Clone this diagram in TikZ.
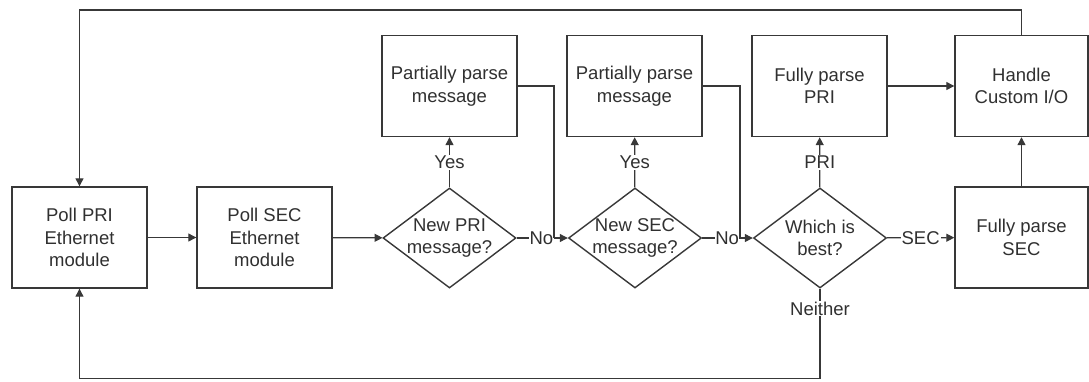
\documentclass[tikz,border=0pt]{standalone}
\usepackage{fontspec}
\setmainfont{Liberation Sans}
\usepackage{xcolor}
\usepackage{tikz}
\usetikzlibrary{arrows.meta,shapes}
\definecolor{ln}{HTML}{383838}
\definecolor{txt}{HTML}{303030}

\begin{document}
\begin{tikzpicture}[x=1pt,y=-1pt,>={Triangle[length=8pt,width=8pt]},
every node/.style={font=\fontsize{18.5}{22.5}\selectfont,text=txt},
blk/.style={draw=ln,line width=1.4pt,minimum width=135pt,minimum height=101pt,align=center,inner sep=0pt},
dec/.style={draw=ln,line width=1.4pt,diamond,aspect=1.2,minimum width=133pt,minimum height=100pt,align=center,inner sep=-6pt},
lbl/.style={fill=white,inner sep=1pt},
flow/.style={draw=ln,line width=1.2pt}]
\useasboundingbox(0,0)rectangle(1089,381);
\node[blk](ppri)at(79.5,237.5){Poll PRI\\Ethernet\\module};
\node[blk](psec)at(264.5,237.5){Poll SEC\\Ethernet\\module};
\node[dec](dpri)at(449.5,238){New PRI\\message?};
\node[dec](dsec)at(635,238){New SEC\\message?};
\node[dec](dbest)at(820,238){Which is\\best?};
\node[blk](part1)at(449.5,86){Partially parse\\message};
\node[blk](part2)at(634.5,86){Partially parse\\message};
\node[blk](fpri)at(819.5,86){Fully parse\\PRI};
\node[blk,minimum width=133pt](hio)at(1021.5,86){Handle\\Custom I/O};
\node[blk,minimum width=133pt](fsec)at(1021.5,237.5){Fully parse\\SEC};
\coordinate(j1)at(554,238);
\coordinate(j2)at(740,238);
\coordinate(topl)at(79.5,10);
\coordinate(botl)at(79.5,378.5);
%main row
\draw[flow,->](ppri)--(psec);
\draw[flow,->](psec)--(dpri);
\draw[flow,->](dpri)--node[lbl]{Yes}(part1);
\draw[flow,->](dsec)--node[lbl]{Yes}(part2);
\draw[flow,->](dbest)--node[lbl]{PRI}(fpri);
\draw[flow,->](dbest)--node[lbl]{SEC}(fsec);
\draw[flow](dpri.east)--node[lbl,pos=0.66,inner sep=0.5pt]{No}(j1);
\draw[flow](dsec.east)--node[lbl,pos=0.66,inner sep=0.5pt]{No}(j2);
\draw[flow](part1.east)-|(j1);
\draw[flow](part2.east)-|(j2);
\draw[flow,->](j1)--(dsec.west);
\draw[flow,->](j2)--(dbest.west);
\draw[flow,->](fpri)--(hio);
\draw[flow,->](fsec)--(hio);
%loops back
\draw[flow,->](hio.north)|-(topl)--(ppri.north);
\draw[flow,->](dbest.south)|-node[lbl,pos=0.11]{Neither}(botl)--(ppri.south);
\end{tikzpicture}
\end{document}
